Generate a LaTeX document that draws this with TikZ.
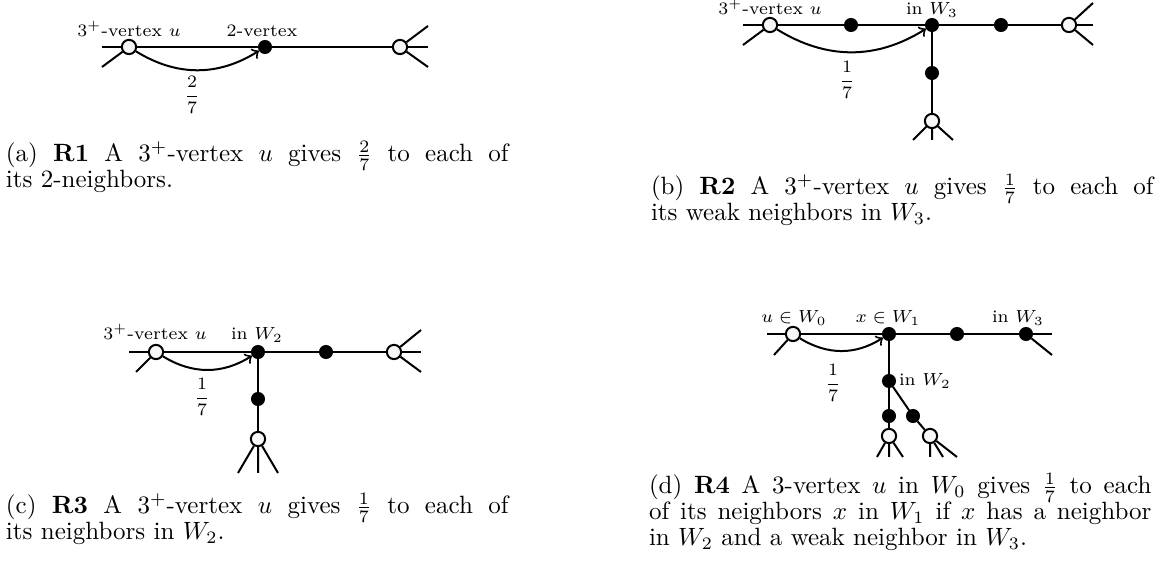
\documentclass[tikz,border=0pt]{standalone}
\usepackage{amsmath,amssymb}
\usepackage{tikz}
\newcommand{\captfont}{\fontsize{10}{10.3}\selectfont\setlength{\lineskiplimit}{-5pt}}

\begin{document}
\begin{tikzpicture}[x=0.4pt, y=-0.4pt, thick,
    openv/.style={circle, draw, fill=gray!6, inner sep=0pt, minimum size=5.7pt},
    fullv/.style={circle, draw, fill=black, inner sep=0pt, minimum size=4.8pt},
    lab/.style={font=\scriptsize, anchor=base, inner sep=0pt},
    fracl/.style={font=\scriptsize, inner sep=0pt},
    give/.style={->, bend right=32},
    capt/.style={anchor=base west, inner sep=0pt, align=justify,
                 text width=201pt, font=\captfont}]
  \useasboundingbox (0,0) rectangle (1156,571);
  % (a) R1
  \coordinate (a0) at (102,47);  \coordinate (a9) at (428,47);
  \coordinate (a1) at (102,67);
  \coordinate (a7) at (428,26);  \coordinate (a8) at (428,67);
  \node[openv] (ua) at (129,47) {};
  \node[fullv] (ta) at (265,47) {};
  \node[openv] (wa) at (400,47) {};
  \draw (a0) -- (ua) -- (ta) -- (wa) -- (a9);
  \draw (a1) -- (ua);
  \draw (wa) -- (a7) (wa) -- (a8);
  \node[lab] (lua) at (129,37) {$3^+$-vertex $u$};
  \node[lab] (lta) at (262,37) {2-vertex};
  \draw[give] (ua) to (ta);
  \node[fracl] (fa) at (192,95) {$\displaystyle\frac{2}{7}$};
  \node[capt] (ca) at (5,162)
       {(a) \textbf{R1} A $3^+$-vertex $u$ gives $\frac{2}{7}$ to each of\linebreak its 2-neighbors.};
  % (b) R2
  \coordinate (b0) at (743,25);  \coordinate (b9) at (1093,25);
  \coordinate (b1) at (743,45);
  \coordinate (b7) at (1093,3);  \coordinate (b8) at (1093,45);
  \coordinate (b4) at (913,140); \coordinate (b5) at (932,140);
  \coordinate (b6) at (953,140);
  \node[openv] (ub) at (770,25) {};
  \node[fullv] (pb) at (851,25) {};
  \node[fullv] (cb) at (932,25) {};
  \node[fullv] (qb) at (1001,25) {};
  \node[openv] (wb) at (1069,25) {};
  \node[fullv] (db) at (932,73) {};
  \node[openv] (ob) at (932,121) {};
  \draw (b0) -- (ub) -- (pb) -- (cb) -- (qb) -- (wb) -- (b9);
  \draw (b1) -- (ub);
  \draw (wb) -- (b7) (wb) -- (b8);
  \draw (cb) -- (db) -- (ob);
  \draw (ob) -- (b4) (ob) -- (b5) (ob) -- (b6);
  \node[lab] (lub) at (770,15) {$3^+$-vertex $u$};
  \node[lab] (lcb) at (932,15) {in $W_3$};
  \draw[give] (ub) to (cb);
  \node[fracl] (fb) at (847,80) {$\displaystyle\frac{1}{7}$};
  \node[capt] (cpb) at (650,195)
       {(b) \textbf{R2} A $3^+$-vertex $u$ gives $\frac{1}{7}$ to each of\linebreak its weak neighbors in $W_3$.};
  % (c) R3
  \coordinate (c0) at (129,352); \coordinate (c9) at (421,352);
  \coordinate (c1) at (136,372);
  \coordinate (c7) at (421,330); \coordinate (c8) at (421,372);
  \coordinate (c4) at (238,473); \coordinate (c5) at (258,473);
  \coordinate (c6) at (278,473);
  \node[openv] (uc) at (156,352) {};
  \node[fullv] (tc) at (258,352) {};
  \node[fullv] (qc) at (326,352) {};
  \node[openv] (wc) at (394,352) {};
  \node[fullv] (dc) at (258,399) {};
  \node[openv] (oc) at (258,439) {};
  \draw (c0) -- (uc) -- (tc) -- (qc) -- (wc) -- (c9);
  \draw (c1) -- (uc);
  \draw (wc) -- (c7) (wc) -- (c8);
  \draw (tc) -- (dc) -- (oc);
  \draw (oc) -- (c4) (oc) -- (c5) (oc) -- (c6);
  \node[lab] (luc) at (155,340) {$3^+$-vertex $u$};
  \node[lab] (ltc) at (257,340) {in $W_2$};
  \draw[give] (uc) to (tc);
  \node[fracl] (fc) at (202,397) {$\displaystyle\frac{1}{7}$};
  \node[capt] (cpc) at (5,514)
       {(c) \textbf{R3} A $3^+$-vertex $u$ gives $\frac{1}{7}$ to each of\linebreak its neighbors in $W_2$.};
  % (d) R4
  \coordinate (d0) at (767,334); \coordinate (d9) at (1052,334);
  \coordinate (d1) at (774,355); \coordinate (d8) at (1052,355);
  \coordinate (d2) at (877,457); \coordinate (d3) at (889,457);
  \coordinate (d4) at (903,457);
  \coordinate (d5) at (930,457); \coordinate (d6) at (943,457);
  \coordinate (d7) at (957,457);
  \node[openv] (ud) at (793,334) {};
  \node[fullv] (xd) at (889,334) {};
  \node[fullv] (qd) at (957,334) {};
  \node[fullv] (wd) at (1026,334) {};
  \node[fullv] (vd) at (889,381) {};
  \node[fullv] (bd) at (889,416) {};
  \node[openv] (od) at (889,436) {};
  \node[fullv] (ed) at (913,416) {};
  \node[openv] (pd) at (930,436) {};
  \draw (d0) -- (ud) -- (xd) -- (qd) -- (wd) -- (d9);
  \draw (d1) -- (ud);
  \draw (wd) -- (d8);
  \draw (xd) -- (vd) -- (bd) -- (od);
  \draw (vd) -- (ed) -- (pd);
  \draw (od) -- (d2) (od) -- (d3) (od) -- (d4);
  \draw (pd) -- (d5) (pd) -- (d6) (pd) -- (d7);
  \node[lab] (lud) at (794,323) {$u\in W_0$};
  \node[lab] (lxd) at (888,323) {$x\in W_1$};
  \node[lab] (lwd) at (1018,323) {in $W_3$};
  \node[lab, anchor=base west] (lvd) at (898,386) {in $W_2$};
  \draw[give] (ud) to (xd);
  \node[fracl] (fd) at (833,383) {$\displaystyle\frac{1}{7}$};
  \node[capt] (cpd) at (648,494)
       {(d) \textbf{R4} A 3-vertex $u$ in $W_0$ gives $\frac{1}{7}$ to each\linebreak of its neighbors $x$ in $W_1$ if $x$ has a neighbor\linebreak in $W_2$ and a weak neighbor in $W_3$.};
\end{tikzpicture}
\end{document}
